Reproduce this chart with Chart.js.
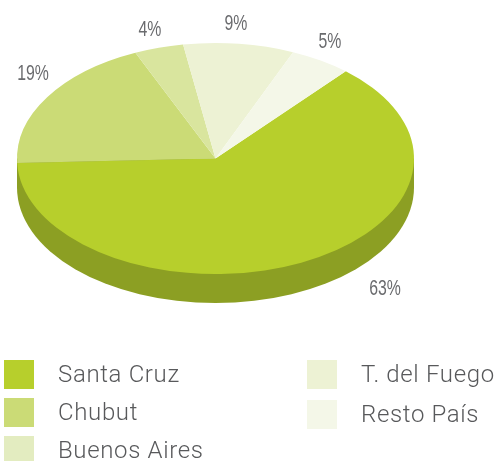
<!DOCTYPE html>
<html>
<head>
<meta charset="utf-8">
<script src="https://cdn.jsdelivr.net/npm/chart.js@4/dist/chart.umd.min.js"></script>
<style>
  html, body { margin: 0; padding: 0; background: #fff; overflow: hidden; }
  #wrap { position: relative; width: 496px; height: 461px; overflow: hidden; }
  .swatch { position: absolute; width: 30px; height: 29px; }
  .item {
    position: absolute; font: 300 24px Roboto, sans-serif; letter-spacing: 0.65px;
    color: #58595b; line-height: 30px; white-space: nowrap;
  }
</style>
</head>
<body>
<div id="wrap"><canvas id="pie" width="496" height="461"></canvas></div>
<script>
const categories = ["Santa Cruz", "Chubut", "Buenos Aires", "T. del Fuego", "Resto País"];
const shares = [63, 19, 4, 9, 5];
const sliceColors = ["#b7cf2c", "#cbdb76", "#d9e59e", "#edf2d4", "#f4f7e8"];
const legendColors = ["#b7cf2c", "#cbdb76", "#e3ecc0", "#edf2d4", "#f4f7e8"];

// pixel spots for the percent labels and the legend rows
const labelSpots = [[385, 289], [33, 74], [150, 30], [236, 24], [330, 42]];
const legendSpots = [[4, 360], [4, 398], [4, 436], [307, 360], [307, 400]];

const squash = 0.582;
const centerY = 158.5;
const depth = 29;

// fake 3d: flatten the pie and put a dark side wall below it
const tiltPlugin = {
  id: 'tilt',
  beforeDatasetsDraw(chart) {
    const ctx = chart.ctx;
    const first = chart.getDatasetMeta(0).data[0];
    const r = first.outerRadius;
    const ry = r * squash;
    ctx.save();
    ctx.fillStyle = '#8c9f23';
    ctx.beginPath();
    ctx.ellipse(first.x, centerY + depth, r, ry, 0, 0, Math.PI);
    ctx.lineTo(first.x - r, centerY);
    ctx.lineTo(first.x + r, centerY);
    ctx.closePath();
    ctx.fill();
    ctx.restore();
    ctx.save();
    ctx.translate(0, centerY);
    ctx.scale(1, squash);
    ctx.translate(0, -first.y);
  },
  afterDatasetsDraw(chart) {
    const ctx = chart.ctx;
    ctx.restore();
    ctx.font = '22px "Liberation Sans", sans-serif';
    ctx.fillStyle = '#6a6b6e';
    ctx.textAlign = 'center';
    ctx.textBaseline = 'middle';
    shares.forEach((v, i) => {
      ctx.save();
      ctx.translate(labelSpots[i][0], labelSpots[i][1]);
      ctx.scale(0.72, 1);
      ctx.fillText(v + '%', 0, 0);
      ctx.restore();
    });
  }
};

new Chart(document.getElementById('pie').getContext('2d'), {
  type: 'pie',
  data: {
    labels: categories,
    datasets: [{
      data: shares,
      backgroundColor: sliceColors,
      borderWidth: 0
    }]
  },
  options: {
    responsive: false,
    animation: false,
    rotation: 41,
    layout: { padding: { left: 17, right: 82, top: 0, bottom: 64 } },
    plugins: {
      legend: { display: false },
      tooltip: { enabled: false }
    }
  },
  plugins: [tiltPlugin]
});

// legend sits in two uneven columns, easier as plain elements
const wrap = document.getElementById('wrap');
categories.forEach((name, i) => {
  const box = document.createElement('div');
  box.className = 'swatch';
  box.style.left = legendSpots[i][0] + 'px';
  box.style.top = legendSpots[i][1] + 'px';
  box.style.background = legendColors[i];
  wrap.appendChild(box);
  const txt = document.createElement('div');
  txt.className = 'item';
  txt.textContent = name;
  txt.style.left = (legendSpots[i][0] + 54) + 'px';
  txt.style.top = (legendSpots[i][1] - 1) + 'px';
  wrap.appendChild(txt);
});
</script>
</body>
</html>
